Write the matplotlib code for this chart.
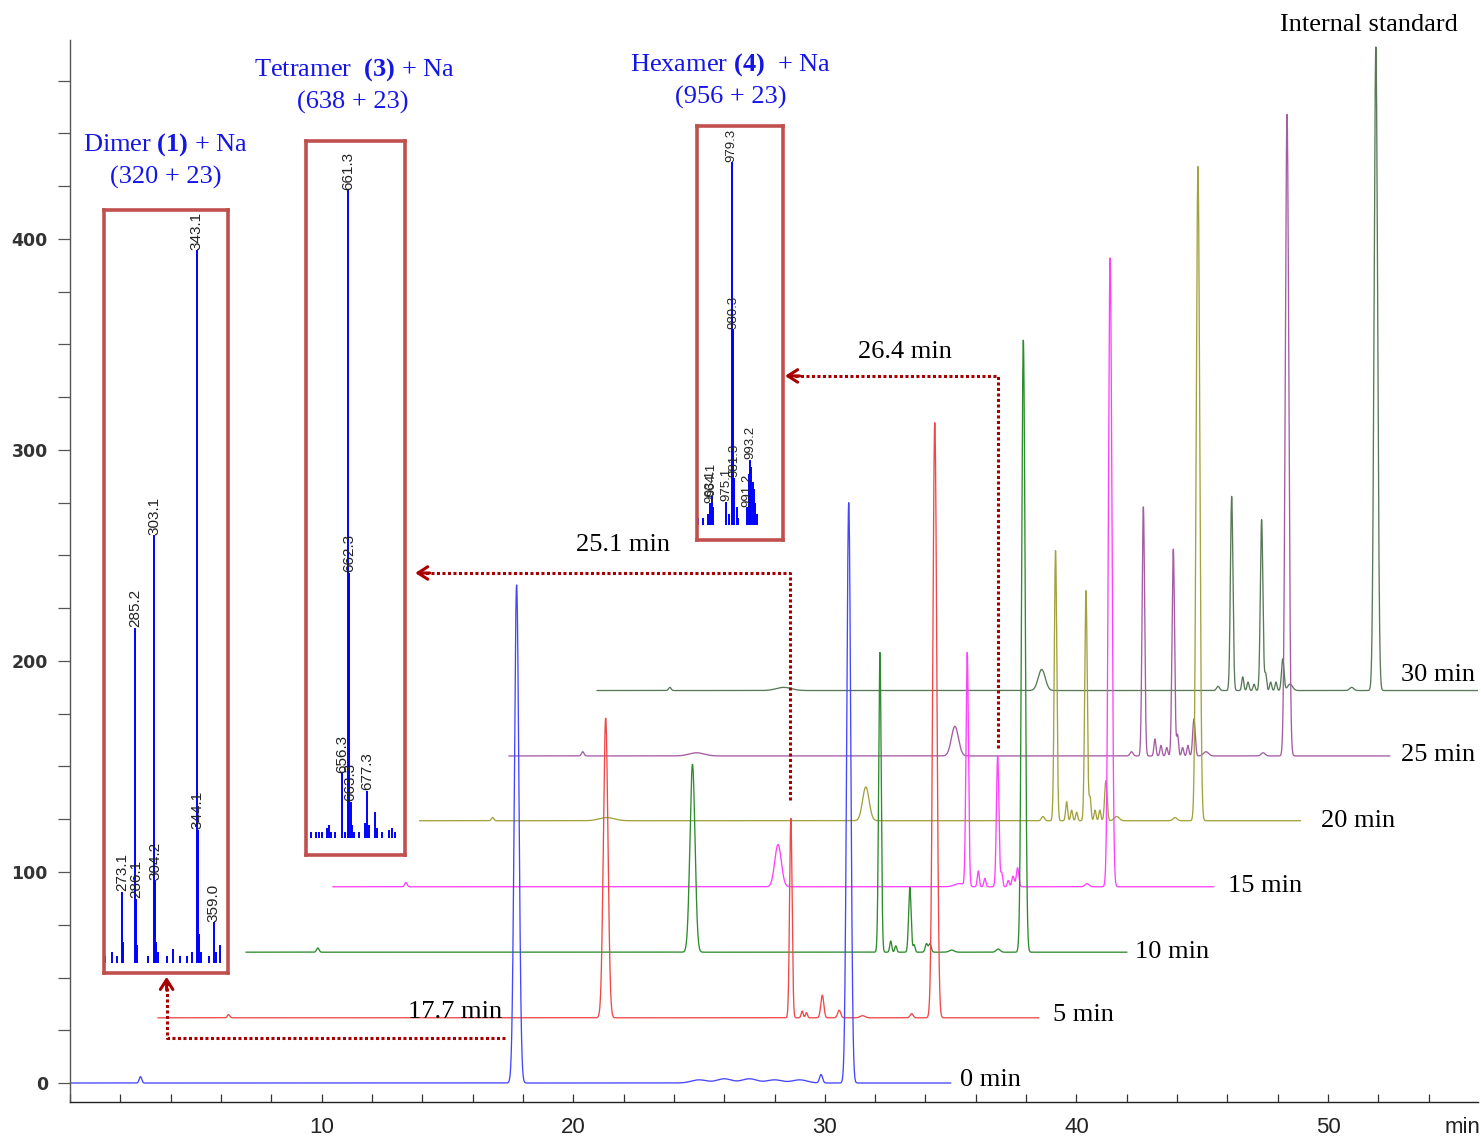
import numpy as np
import matplotlib
matplotlib.use("Agg")
import matplotlib.pyplot as plt
from matplotlib.ticker import MultipleLocator, FixedLocator

plt.rcParams['mathtext.fontset'] = 'custom'
plt.rcParams['mathtext.rm'] = 'Liberation Serif'
plt.rcParams['mathtext.bf'] = 'Liberation Serif:bold'
plt.rcParams['mathtext.it'] = 'Liberation Serif:italic'

SERIF = 'Liberation Serif'
SANS = 'Liberation Sans'

# ---------------- chromatogram data ----------------
SAMPLING_TIMES = ['0 min', '5 min', '10 min', '15 min', '20 min', '25 min', '30 min']
TRACE_COLORS = ['#4646ff', '#f04848', '#2e8b2e', '#ff40ff', '#a2a23e', '#a45ca4', '#587a58']
TRACE_DX = [0.0, 3.5, 7.0, 10.45, 13.9, 17.45, 20.95]      # waterfall x offset (min)
TRACE_DY = [0.0, 30.9, 62.0, 93.0, 124.3, 155.0, 186.0]    # waterfall y offset
RUN_LENGTH = 35.0

# peak tables: retention time (min), height, width (sigma, min)
RT_0 = [2.8, 17.75, 25.0, 26.0, 27.0, 28.0, 29.0, 29.85, 30.95]
H_0 = [3, 236, 1.5, 2.0, 2.0, 1.5, 1.5, 4, 275]
W_0 = [0.05, 0.09, 0.3, 0.3, 0.3, 0.3, 0.3, 0.06, 0.08]

RT_5 = [2.8, 17.79, 25.15, 25.6, 25.77, 26.4, 27.07, 28.0, 29.95, 30.87]
H_5 = [1.5, 142, 94.5, 3.2, 2.5, 10.7, 3.6, 1.0, 2.0, 282]
W_5 = [0.05, 0.09, 0.05, 0.04, 0.04, 0.06, 0.06, 0.1, 0.06, 0.08]

RT_10 = [2.85, 17.74, 25.19, 25.62, 25.82, 26.38, 26.55, 27.04, 27.18, 28.04, 29.89, 30.89]
H_10 = [2, 89, 142, 5.3, 3, 30.7, 3.4, 4, 4, 1, 1.5, 290]
W_10 = [0.05, 0.1, 0.05, 0.04, 0.04, 0.05, 0.04, 0.05, 0.05, 0.1, 0.08, 0.07]

RT_15 = [2.9, 17.69, 24.9, 25.21, 25.65, 25.91, 26.42, 26.58, 26.84, 27.03, 27.21, 29.97, 30.89]
H_15 = [2, 20, 1.5, 110.6, 7.5, 4, 62, 6.5, 3, 5, 9, 1.5, 298]
W_15 = [0.05, 0.13, 0.2, 0.05, 0.04, 0.04, 0.05, 0.04, 0.04, 0.05, 0.05, 0.08, 0.07]

RT_20 = [2.9, 7.43, 17.73, 24.77, 25.27, 25.71, 25.91, 26.11, 26.48, 26.64, 26.84, 27.03, 27.27, 27.7, 30.02, 30.93]
H_20 = [1.5, 1.5, 16, 2, 128, 9, 5, 4, 109, 11, 5, 5, 19, 2, 1.5, 310]
W_20 = [0.05, 0.3, 0.13, 0.06, 0.05, 0.04, 0.04, 0.04, 0.05, 0.04, 0.04, 0.04, 0.05, 0.1, 0.08, 0.07]

RT_25 = [2.93, 7.45, 17.72, 24.74, 25.21, 25.67, 25.91, 26.14, 26.4, 26.57, 26.77, 26.98, 27.22, 27.7, 29.97, 30.92]
H_25 = [2, 1.5, 14, 2, 118, 8, 5, 4, 98, 10, 4, 5, 17.5, 2, 1.5, 304]
W_25 = [0.05, 0.3, 0.14, 0.06, 0.05, 0.04, 0.04, 0.04, 0.05, 0.04, 0.04, 0.04, 0.05, 0.1, 0.08, 0.07]

RT_30 = [2.89, 7.42, 17.67, 24.68, 25.22, 25.66, 25.87, 26.11, 26.41, 26.57, 26.77, 26.98, 27.25, 27.54, 29.99, 30.95]
H_30 = [1.5, 1.5, 10, 2, 92, 6.5, 4, 3, 81, 8, 4, 4, 15, 3, 1.5, 305]
W_30 = [0.05, 0.3, 0.14, 0.06, 0.05, 0.04, 0.04, 0.04, 0.05, 0.04, 0.04, 0.04, 0.05, 0.1, 0.08, 0.07]

PEAK_RT = [RT_0, RT_5, RT_10, RT_15, RT_20, RT_25, RT_30]
PEAK_H = [H_0, H_5, H_10, H_15, H_20, H_25, H_30]
PEAK_W = [W_0, W_5, W_10, W_15, W_20, W_25, W_30]

TRACE_LABEL_X = [35.37, 39.07, 42.33, 46.02, 49.72, 52.9, 52.9]
TRACE_LABEL_Y = [1.4, 32.2, 62.1, 93.4, 124.2, 155.5, 193.4]

X_MAJOR = [10, 20, 30, 40, 50]
Y_MAJOR = [0, 100, 200, 300, 400]

# ---------------- mass spectra data ----------------
DIMER_MZ = [256.8, 263.1, 267.8, 273.1, 274.1, 285.2, 286.1, 287.1, 297.6, 303.1, 304.2, 305.2,
            307.0, 314.8, 321.0, 327.4, 333.7, 338.4, 343.1, 344.1, 345.1, 347.2, 354.2, 359.0,
            361.0, 365.0]
DIMER_INT = [1, 1.5, 1, 10, 3, 47, 9, 2.5, 1, 60, 11.6, 3, 1.5, 1, 2, 1, 1, 1.5, 100, 18.7, 4,
             1.5, 1, 5.7, 1.5, 2.5]
DIMER_LABELS = [273.1, 285.2, 286.1, 303.1, 304.2, 343.1, 344.1, 359.0]

TETRA_MZ = [629.6, 633.8, 636.6, 639.4, 643.4, 645.0, 646.7, 650.0, 656.3, 658.3, 661.3, 662.3,
            663.3, 664.3, 666.5, 670.3, 675.3, 677.3, 678.3, 683.8, 685.3, 690.0, 695.3, 698.3, 701.0]
TETRA_INT = [1, 1, 1, 1, 1.5, 2, 1, 1, 10, 1, 100, 41, 5.6, 2, 1, 1, 2.4, 7.3, 2, 4, 1.5, 1, 1.2,
             1.5, 1]
TETRA_LABELS = [656.3, 661.3, 662.3, 663.3, 677.3]

HEXA_MZ = [953.9, 957.7, 961.5, 963.1, 964.1, 965.1, 975.1, 976.9, 979.3, 980.3, 981.3, 983.0,
           984.3, 991.2, 992.2, 993.2, 994.2, 995.2, 996.2, 997.2, 998.2]
HEXA_INT = [2, 2, 3, 6, 8, 5, 6.4, 3, 100, 54, 13, 5, 2, 5, 14, 18, 16, 12, 10, 6, 3]
HEXA_LABELS = [963.1, 964.1, 975.1, 979.3, 980.3, 981.3, 991.2, 993.2]

# ---------------- figure ----------------
W, H = 1481, 1137
fig = plt.figure(figsize=(W / 100, H / 100), dpi=100)
ax = fig.add_axes([70 / W, 1 - 1102 / H, 1408 / W, 1062 / H])
ax.set_xlim(0, 55.96)
ax.set_ylim(-9.0, 494.3)

rt = np.linspace(0, RUN_LENGTH, 7001)
for k in reversed(range(len(SAMPLING_TIMES))):
    sig = np.zeros_like(rt)
    for r, h, w in zip(PEAK_RT[k], PEAK_H[k], PEAK_W[k]):
        sig += h * np.exp(-0.5 * ((rt - r) / w) ** 2)
    ax.plot(rt + TRACE_DX[k], sig + TRACE_DY[k], color=TRACE_COLORS[k], lw=0.95, zorder=2)
    ax.text(TRACE_LABEL_X[k], TRACE_LABEL_Y[k], SAMPLING_TIMES[k], ha='left', va='center',
            fontsize=19, family=SERIF, color='black')

for side in ['top', 'right']:
    ax.spines[side].set_visible(False)
ax.spines['left'].set_color('#555555')
ax.spines['bottom'].set_color('#222222')
ax.spines['left'].set_linewidth(1.0)
ax.spines['bottom'].set_linewidth(1.0)

ax.xaxis.set_major_locator(FixedLocator(X_MAJOR))
ax.xaxis.set_minor_locator(MultipleLocator(2))
ax.yaxis.set_major_locator(FixedLocator(Y_MAJOR))
ax.yaxis.set_minor_locator(FixedLocator(np.arange(0, 476, 25)))
ax.tick_params(axis='x', which='both', direction='in', length=6, width=0.9, color='#333333',
               pad=11, labelsize=16)
ax.tick_params(axis='y', which='both', direction='out', length=9, width=0.9, color='#555555',
               pad=7, labelsize=12.5)
for lbl in ax.get_xticklabels():
    lbl.set_family(SANS)
    lbl.set_color('#222222')
for lbl in ax.get_yticklabels():
    lbl.set_family('DejaVu Sans')
    lbl.set_fontweight('bold')
    lbl.set_color('#333333')

fig.text(1462 / W, 1 - 1117 / H, 'min', ha='center', va='top', fontsize=16, family=SANS,
         color='#222222')
fig.text(1369 / W, 1 - 25 / H, 'Internal standard', ha='center', va='center', fontsize=19,
         family=SERIF, color='black')

# ---------------- arrows (retention-time callouts) ----------------
AR = '#a80000'
dot = (0, (1, 0.8))


def callout(xs, ys, tip, tail):
    ax.plot(xs, ys, color=AR, lw=2.2, linestyle=dot, dash_capstyle='butt', zorder=5,
            clip_on=False)
    ax.annotate('', xy=tip, xytext=tail,
                arrowprops=dict(arrowstyle='->,head_length=0.7,head_width=0.45', lw=2.2,
                                color=AR, shrinkA=0, shrinkB=0), zorder=6)


callout([17.3, 3.84, 3.84], [21.3, 21.3, 49.0], (3.84, 50.3), (3.84, 44.0))
callout([28.6, 28.6, 13.85], [134.1, 241.7, 241.7], (13.72, 241.7), (14.3, 241.7))
callout([36.88, 36.88, 28.55], [158.8, 335.1, 335.1], (28.42, 335.1), (29.0, 335.1))

ax.text(15.3, 33.6, '17.7 min', ha='center', va='center', fontsize=19, family=SERIF)
ax.text(21.97, 255.0, '25.1 min', ha='center', va='center', fontsize=19, family=SERIF)
ax.text(33.18, 346.4, '26.4 min', ha='center', va='center', fontsize=19, family=SERIF)

# ---------------- inset mass spectra ----------------
BOX = '#c0504d'


def spectrum(rect, mz, inten, labels, xlim, ylim, fs):
    a = fig.add_axes(rect)
    a.vlines(mz, 0, inten, color='#0000ff', lw=1.4)
    a.set_xlim(xlim)
    a.set_ylim(ylim)
    a.set_xticks([])
    a.set_yticks([])
    for s in a.spines.values():
        s.set_color(BOX)
        s.set_linewidth(2.6)
    for m in labels:
        i = mz.index(m)
        a.annotate(f'{m:.1f}', (m, inten[i]), xytext=(0, 0.3), textcoords='offset points',
                   rotation=90, ha='center', va='bottom', fontsize=fs, family=SANS,
                   color='#222222')
    return a


spectrum([104 / W, 1 - 973 / H, 124 / W, 763 / H], DIMER_MZ, DIMER_INT, DIMER_LABELS,
         (255.9, 372.5), (-1.4, 105.6), 11)
spectrum([306 / W, 1 - 855 / H, 99 / W, 714 / H], TETRA_MZ, TETRA_INT, TETRA_LABELS,
         (625.7, 709.0), (-2.6, 107.6), 11)
spectrum([697 / W, 1 - 540 / H, 86 / W, 414 / H], HEXA_MZ, HEXA_INT, HEXA_LABELS,
         (952.9, 1018.3), (-4.1, 109.9), 9.5)

BLUE = '#1515e6'
fig.text(166 / W, 1 - 145 / H, r'Dimer $\mathbf{(1)}$ + Na', ha='center', va='center',
         fontsize=19, family=SERIF, color=BLUE)
fig.text(166 / W, 1 - 177 / H, '(320 + 23)', ha='center', va='center', fontsize=19,
         family=SERIF, color=BLUE)
fig.text(354 / W, 1 - 70 / H, r'Tetramer  $\mathbf{(3)}$ + Na', ha='center', va='center',
         fontsize=19, family=SERIF, color=BLUE)
fig.text(353 / W, 1 - 102 / H, '(638 + 23)', ha='center', va='center', fontsize=19,
         family=SERIF, color=BLUE)
fig.text(730 / W, 1 - 65 / H, r'Hexamer $\mathbf{(4)}$  + Na', ha='center', va='center',
         fontsize=19, family=SERIF, color=BLUE)
fig.text(731 / W, 1 - 97 / H, '(956 + 23)', ha='center', va='center', fontsize=19,
         family=SERIF, color=BLUE)

fig.savefig('out.png', dpi=100)
